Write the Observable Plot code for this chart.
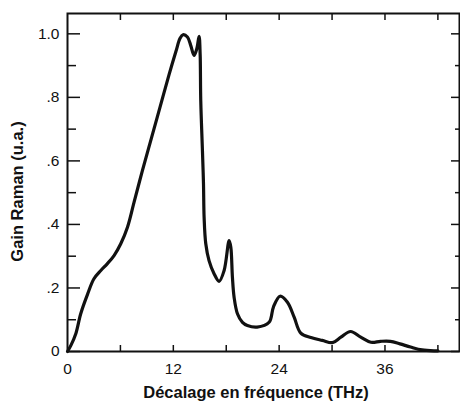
<!DOCTYPE html>
<html><head><meta charset="utf-8">
<script src="https://cdn.jsdelivr.net/npm/d3@7"></script>
<script src="https://cdn.jsdelivr.net/npm/@observablehq/plot@0.6"></script>
<style>body{margin:0;background:#fff} svg{display:block}</style>
</head><body><div id="chart"></div>
<script>
// Raman gain curve (frequency shift in THz, normalized gain)
const shiftTHz = [0, 0.4, 0.94, 1.5, 2.27, 3.0, 3.78, 4.5, 5.28, 6.04, 6.8, 7.55, 8.5, 9.5, 10.5, 11.5, 12.3, 12.75, 13.1, 13.6, 13.98, 14.35, 14.66, 14.92, 15.04, 15.11, 15.3, 15.42, 15.49, 15.68, 16.05, 16.62, 17.19, 17.76, 18.33, 18.52, 18.7, 18.89, 19.27, 19.84, 20.4, 21.5, 22.86, 23.35, 24.1, 24.94, 25.7, 26.45, 27.6, 28.9, 30.05, 31.0, 32.1, 33.25, 34.4, 35.5, 36.6, 37.7, 38.9, 40.2, 41.6, 42.0];
const ramanGain = [0, 0.02, 0.056, 0.119, 0.18, 0.229, 0.255, 0.276, 0.302, 0.339, 0.391, 0.47, 0.57, 0.67, 0.77, 0.87, 0.945, 0.985, 0.997, 0.99, 0.963, 0.932, 0.953, 0.992, 0.937, 0.79, 0.633, 0.528, 0.423, 0.339, 0.286, 0.245, 0.221, 0.255, 0.349, 0.328, 0.234, 0.171, 0.119, 0.092, 0.082, 0.077, 0.092, 0.14, 0.174, 0.155, 0.108, 0.058, 0.044, 0.035, 0.028, 0.045, 0.063, 0.045, 0.029, 0.032, 0.032, 0.024, 0.014, 0.005, 0.002, 0.002];

const xTickValues = [0, 12, 24, 36];
const xEdgeTicks = [6, 12, 18, 24, 30, 36, 42];
const yTickValues = [0, 0.2, 0.4, 0.6, 0.8, 1.0];
const yTickLabels = ["0", ".2", ".4", ".6", ".8", "1.0"];
const yMinorTicks = [0.1, 0.3, 0.5, 0.7, 0.9];
const xTitle = "Décalage en fréquence (THz)";
const yTitle = "Gain Raman (u.a.)";

const W = 460, H = 401, mL = 67, mR = 1, mT = 13, mB = 50;
const plotW = W - mL - mR, plotH = H - mT - mB;
const data = shiftTHz.map((x, i) => ({x, y: ramanGain[i]}));
const ink = "#111";

const chart = Plot.plot({
  width: W, height: H,
  marginLeft: mL, marginRight: mR, marginTop: mT, marginBottom: mB,
  style: {fontFamily: "'Liberation Sans', Arial, Helvetica, sans-serif", fontSize: "15.5px", color: ink, background: "#fff"},
  x: {domain: [0, 44.45], ticks: xTickValues, tickSize: 0, tickPadding: 11, tickFormat: d => String(d), label: null},
  y: {domain: [0, 1.064], ticks: yTickValues, tickSize: 0, tickPadding: 8,
      tickFormat: d => yTickLabels[yTickValues.findIndex(v => Math.abs(v - d) < 1e-9)], label: null},
  marks: [
    Plot.tickY(yTickValues, {y: d => d, insetRight: plotW - 13, stroke: ink, strokeWidth: 1.5}),
    Plot.tickY(yMinorTicks, {y: d => d, insetRight: plotW - 9, stroke: ink, strokeWidth: 1.5}),
    Plot.tickY(yTickValues, {y: d => d, insetLeft: plotW - 8, stroke: ink, strokeWidth: 1.5}),
    Plot.tickY(yMinorTicks, {y: d => d, insetLeft: plotW - 4, stroke: ink, strokeWidth: 1.5}),
    Plot.tickX(xEdgeTicks, {x: d => d, insetBottom: plotH - 7, stroke: ink, strokeWidth: 1.5}),
    Plot.tickX(xEdgeTicks, {x: d => d, insetTop: plotH - 6, stroke: ink, strokeWidth: 1.5}),
    Plot.frame({stroke: ink, strokeWidth: 2}),
    Plot.line(data, {x: "x", y: "y", curve: "catmull-rom", stroke: ink, strokeWidth: 3.2}),
    Plot.text([xTitle], {frameAnchor: "bottom", textAnchor: "middle", lineAnchor: "middle", dx: -7.5, dy: 41.5, text: d => d, fontWeight: "bold", fontSize: 16.5, fill: ink}),
    Plot.text([yTitle], {frameAnchor: "left", textAnchor: "middle", lineAnchor: "middle", rotate: -90, dx: -49.5, dy: 9, text: d => d, fontWeight: "bold", fontSize: 16.5, fill: ink})
  ]
});
document.getElementById("chart").append(chart);
</script>
</body></html>
